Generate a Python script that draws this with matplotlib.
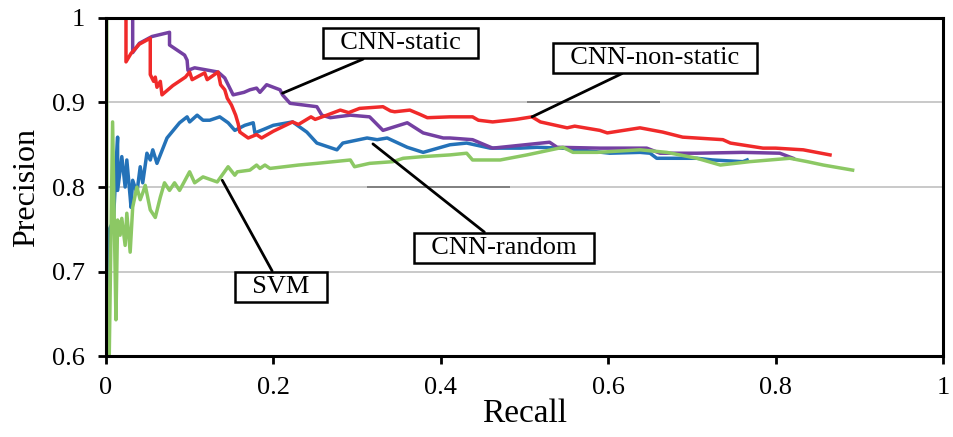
import matplotlib
matplotlib.use("Agg")
import matplotlib.pyplot as plt
import matplotlib.patheffects as pe

plt.rcParams['font.family'] = ['Liberation Serif', 'DejaVu Serif']

# CNN-non-static (red)
red_recall = [0.005, 0.024, 0.024, 0.030, 0.040, 0.053, 0.053, 0.057, 0.059, 0.061, 0.065, 0.067,
              0.080, 0.095, 0.100, 0.103, 0.118, 0.121, 0.134, 0.137, 0.142, 0.145, 0.150, 0.155,
              0.158, 0.160, 0.170, 0.180, 0.186, 0.200, 0.223, 0.230, 0.245, 0.250, 0.264, 0.280,
              0.290, 0.303, 0.331, 0.340, 0.345, 0.363, 0.375, 0.384, 0.411, 0.438, 0.445, 0.462,
              0.490, 0.509, 0.519, 0.551, 0.560, 0.590, 0.599, 0.638, 0.665, 0.689, 0.737, 0.746,
              0.785, 0.800, 0.833, 0.865]
red_prec = [1.000, 1.000, 0.948, 0.958, 0.969, 0.976, 0.933, 0.925, 0.930, 0.918, 0.925, 0.909,
            0.920, 0.930, 0.936, 0.927, 0.935, 0.927, 0.936, 0.921, 0.915, 0.905, 0.897, 0.885,
            0.875, 0.865, 0.858, 0.862, 0.858, 0.866, 0.877, 0.874, 0.883, 0.880, 0.885, 0.891,
            0.888, 0.893, 0.895, 0.890, 0.889, 0.891, 0.886, 0.882, 0.883, 0.883, 0.879, 0.877,
            0.880, 0.883, 0.877, 0.870, 0.872, 0.867, 0.864, 0.870, 0.865, 0.859, 0.856, 0.852,
            0.846, 0.846, 0.844, 0.838]

# CNN-static (purple)
purple_recall = [0.005, 0.032, 0.032, 0.040, 0.055, 0.076, 0.076, 0.088, 0.094, 0.097, 0.098,
                 0.106, 0.134, 0.142, 0.148, 0.152, 0.165, 0.172, 0.180, 0.184, 0.192, 0.208,
                 0.211, 0.220, 0.252, 0.258, 0.268, 0.292, 0.315, 0.331, 0.360, 0.379, 0.403,
                 0.411, 0.438, 0.462, 0.530, 0.539, 0.590, 0.646, 0.662, 0.706, 0.761, 0.805, 0.821]
purple_prec = [1.000, 1.000, 0.959, 0.970, 0.978, 0.983, 0.968, 0.960, 0.956, 0.950, 0.938,
               0.941, 0.936, 0.929, 0.917, 0.909, 0.912, 0.915, 0.917, 0.912, 0.921, 0.915,
               0.909, 0.899, 0.895, 0.885, 0.882, 0.885, 0.883, 0.867, 0.876, 0.864, 0.858,
               0.858, 0.856, 0.846, 0.853, 0.847, 0.846, 0.846, 0.840, 0.840, 0.841, 0.840, 0.834]

# CNN-random (blue)
blue_recall = [0.002, 0.004, 0.009, 0.014, 0.014, 0.019, 0.023, 0.025, 0.029, 0.030, 0.032,
               0.037, 0.041, 0.044, 0.049, 0.053, 0.056, 0.061, 0.073, 0.088, 0.097, 0.100,
               0.109, 0.116, 0.124, 0.136, 0.146, 0.154, 0.166, 0.176, 0.178, 0.188, 0.200,
               0.223, 0.240, 0.252, 0.276, 0.283, 0.312, 0.324, 0.336, 0.360, 0.379, 0.411,
               0.431, 0.459, 0.495, 0.515, 0.546, 0.602, 0.638, 0.650, 0.658, 0.706, 0.725,
               0.761, 0.766]
blue_prec = [0.600, 0.750, 0.760, 0.859, 0.796, 0.836, 0.800, 0.832, 0.788, 0.776, 0.808,
             0.793, 0.824, 0.805, 0.840, 0.832, 0.844, 0.828, 0.858, 0.876, 0.883, 0.877,
             0.885, 0.879, 0.879, 0.883, 0.876, 0.867, 0.873, 0.876, 0.864, 0.868, 0.873,
             0.877, 0.865, 0.852, 0.844, 0.852, 0.858, 0.856, 0.858, 0.847, 0.841, 0.850,
             0.852, 0.846, 0.846, 0.847, 0.846, 0.840, 0.841, 0.840, 0.834, 0.834, 0.832,
             0.830, 0.832]

# SVM (green)
green_recall = [0.001, 0.001, 0.004, 0.008, 0.012, 0.014, 0.017, 0.019, 0.023, 0.025, 0.029,
                0.032, 0.037, 0.041, 0.044, 0.047, 0.053, 0.059, 0.065, 0.070, 0.076, 0.082,
                0.088, 0.100, 0.106, 0.116, 0.133, 0.146, 0.154, 0.157, 0.172, 0.180, 0.184,
                0.190, 0.196, 0.230, 0.252, 0.292, 0.297, 0.315, 0.343, 0.355, 0.379, 0.411,
                0.431, 0.438, 0.471, 0.503, 0.546, 0.558, 0.587, 0.638, 0.670, 0.706, 0.734,
                0.769, 0.817, 0.838, 0.857, 0.892]
green_prec = [1.000, 0.600, 0.600, 0.877, 0.643, 0.761, 0.743, 0.763, 0.731, 0.769, 0.723,
              0.776, 0.800, 0.785, 0.793, 0.802, 0.773, 0.764, 0.788, 0.805, 0.796, 0.805,
              0.796, 0.818, 0.805, 0.812, 0.806, 0.824, 0.814, 0.818, 0.820, 0.826, 0.822,
              0.826, 0.822, 0.826, 0.828, 0.832, 0.824, 0.828, 0.830, 0.834, 0.836, 0.838,
              0.840, 0.832, 0.832, 0.838, 0.847, 0.841, 0.841, 0.844, 0.841, 0.834, 0.826,
              0.830, 0.834, 0.830, 0.826, 0.820]

# callouts: label, point on curve, box centre
labels = ['CNN-static', 'CNN-non-static', 'CNN-random', 'SVM']
label_points = [(0.211, 0.911), (0.509, 0.883), (0.319, 0.851), (0.139, 0.808)]
label_boxes = [(0.352, 0.970), (0.656, 0.953), (0.476, 0.728), (0.209, 0.682)]

fig = plt.figure(figsize=(9.54, 4.37), dpi=100)
ax = fig.add_axes([0.111, 0.185, 0.8775, 0.774])

for yv in [0.7, 0.8, 0.9]:
    ax.axhline(yv, color='#c0c0c0', lw=1.2, zorder=1)
# darker shadow streaks on two gridlines
ax.hlines([0.9, 0.8], [0.503, 0.312], [0.662, 0.483], color='#808080', lw=1.4, zorder=1)

ax.plot(blue_recall, blue_prec, color='#2472b8', lw=2.5, zorder=3)
ax.plot(purple_recall, purple_prec, color='#7440a2', lw=2.5, zorder=4)
ax.plot(red_recall, red_prec, color='#f02a2a', lw=2.5, zorder=5)
ax.plot(green_recall, green_prec, color='#8cc864', lw=2.5, zorder=6)

for lab, pt, bx in zip(labels, label_points, label_boxes):
    ax.annotate('  ' + lab + '  ', xy=pt, xytext=bx, ha='center', va='center', fontsize=19,
                zorder=8,
                bbox=dict(boxstyle='square,pad=0.15', fc='white', ec='black', lw=1.8),
                arrowprops=dict(arrowstyle='-', color='black', lw=2, shrinkA=0, shrinkB=0,
                                path_effects=[pe.SimplePatchShadow(offset=(1.5, -1.5)), pe.Normal()]))

ax.set_xlim(0, 1)
ax.set_ylim(0.6, 1)
ax.set_xticks([0, 0.2, 0.4, 0.6, 0.8, 1])
ax.set_xticklabels(['0', '0.2', '0.4', '0.6', '0.8', '1'])
ax.set_yticks([0.6, 0.7, 0.8, 0.9, 1])
ax.set_yticklabels(['0.6', '0.7', '0.8', '0.9', '1'])
ax.tick_params(direction='out', length=6, width=2, labelsize=19, pad=9)
for s in ax.spines.values():
    s.set_linewidth(2.2)
    s.set_zorder(7)

ax.set_xlabel('Recall', fontsize=24, labelpad=0)
ax.set_ylabel('Precision', fontsize=23, labelpad=8)

fig.savefig('out.png', dpi=100)
